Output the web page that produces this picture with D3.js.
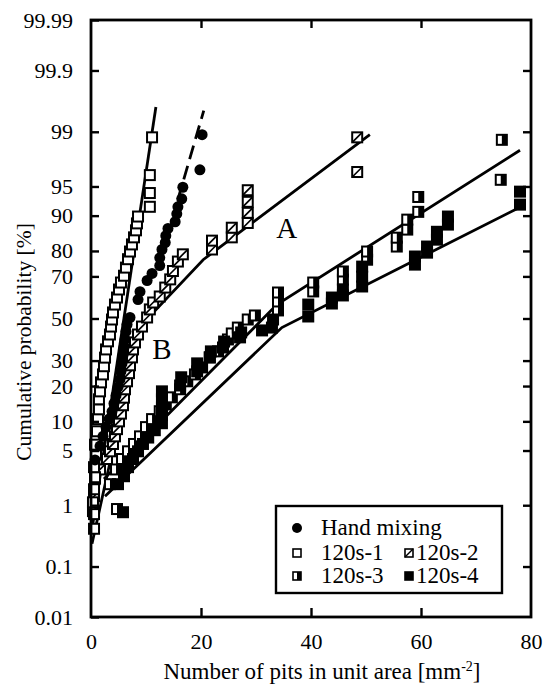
<!DOCTYPE html>
<html>
<head>
<meta charset="utf-8">
<script src="https://cdn.jsdelivr.net/npm/d3@7"></script>
<style>
  body { margin: 0; background: #fff; }
  text { font-family: "Liberation Serif", "Times New Roman", serif; fill: #000; }
</style>
</head>
<body>
<div class="canvas"></div>
<script>
// probability ticks (%) and x ticks
const probTicks = [0.01, 0.1, 1, 5, 10, 20, 30, 50, 70, 80, 90, 95, 99, 99.9, 99.99];
const xTicks = [0, 20, 40, 60, 80];

// Hand mixing (filled circles)
const handX = [0.73, 1.64, 2.18, 2.73, 3.27, 3.82, 4.18, 4.55, 4.91, 5.27, 5.45, 5.64, 5.82, 6.0, 6.18, 6.36, 6.55, 7.09, 8.55, 8.91, 10.2, 11.1, 12.5, 12.5, 12.9, 13.5, 13.6, 14.0, 15.3, 15.6, 15.8, 16.5, 16.7, 19.8, 20.2];
const handP = [3.9, 5.6, 7.1, 8.8, 10.5, 12.3, 14.5, 16.9, 19.6, 22.4, 25.5, 28.8, 32.3, 35.9, 39.7, 43.6, 47.0, 50.5, 59.3, 63.1, 68.2, 71.3, 74.5, 77.5, 80.5, 82.8, 84.9, 86.9, 88.6, 90.4, 91.8, 93.2, 94.9, 96.8, 98.9];

// 120s-1 (open squares)
const s1X = [0.55, 0.55, 0.36, 0.55, 0.73, 0.55, 0.91, 0.73, 1.09, 1.27, 1.45, 1.45, 1.64, 1.82, 2.18, 2.36, 2.55, 2.73, 3.09, 3.45, 3.64, 3.82, 4.0, 4.36, 4.73, 5.09, 5.45, 6.0, 6.36, 6.73, 7.09, 7.45, 7.82, 8.18, 8.36, 8.55, 10.7, 10.7, 10.7, 11.1];
const s1P = [0.44, 0.74, 1.1, 1.67, 2.4, 3.2, 4.5, 5.8, 8.0, 10.5, 12.9, 15.7, 18.2, 21.3, 24.3, 27.6, 31.3, 35.0, 38.8, 42.1, 46.0, 49.5, 53.0, 56.9, 60.3, 64.1, 67.3, 70.3, 73.7, 77.0, 79.8, 82.2, 84.4, 86.4, 88.2, 89.8, 91.8, 94.1, 96.3, 98.8];

// 120s-2 (slashed squares)
const s2X = [0.36, 0.55, 0.73, 1.64, 2.91, 3.45, 4.0, 4.36, 4.73, 5.09, 5.45, 5.82, 6.0, 6.18, 6.55, 6.91, 7.09, 7.45, 7.64, 8.0, 8.55, 9.27, 10.2, 10.7, 11.3, 12.5, 13.5, 14.4, 14.9, 15.8, 16.7, 22.0, 22.0, 25.6, 25.6, 28.5, 28.5, 28.5, 28.5, 48.4, 48.4];
const s2P = [0.82, 1.34, 2.3, 3.0, 4.0, 4.9, 5.9, 7.1, 8.4, 10.0, 11.8, 14.0, 16.2, 18.9, 21.7, 24.8, 28.0, 31.4, 35.0, 38.3, 42.1, 46.0, 50.5, 54.5, 57.9, 60.8, 65.0, 68.7, 72.3, 76.1, 78.8, 80.5, 83.4, 84.4, 87.1, 88.3, 90.6, 92.7, 94.5, 96.6, 98.8];

// 120s-3 (half filled squares)
const s3X = [4.73, 3.45, 4.55, 5.64, 6.73, 7.82, 8.91, 10.0, 11.1, 12.5, 13.6, 14.7, 16.2, 17.5, 18.9, 20.2, 21.6, 23.1, 24.9, 25.6, 26.7, 28.5, 29.8, 34.0, 34.0, 34.0, 40.4, 40.4, 45.8, 45.8, 50.2, 50.2, 55.6, 55.6, 57.5, 57.5, 59.5, 59.5, 74.5, 74.7];
const s3P = [0.88, 1.95, 3.0, 4.0, 4.9, 5.9, 7.1, 8.8, 10.5, 12.4, 14.2, 16.3, 18.9, 21.7, 24.3, 27.1, 31.4, 34.1, 39.7, 42.6, 45.5, 49.5, 51.5, 54.0, 58.4, 62.7, 63.2, 67.3, 68.6, 72.1, 76.8, 79.8, 81.5, 84.3, 86.6, 89.1, 90.8, 93.5, 95.8, 98.7];

// 120s-4 (filled squares)
const s4X = [5.82, 4.91, 6.0, 6.73, 7.64, 8.55, 9.45, 10.4, 11.6, 12.9, 12.9, 12.9, 12.9, 12.9, 16.2, 16.4, 19.3, 19.3, 21.6, 21.8, 24.0, 24.2, 27.1, 27.3, 31.1, 32.9, 33.1, 39.5, 39.5, 43.8, 43.8, 45.8, 45.8, 49.3, 49.3, 49.3, 58.9, 58.9, 61.1, 61.1, 62.9, 62.9, 64.9, 64.9, 78.0, 78.0];
const s4P = [0.79, 1.95, 2.47, 3.2, 4.0, 4.9, 5.9, 6.9, 8.2, 9.6, 11.4, 13.4, 15.7, 18.2, 20.2, 23.2, 25.5, 28.8, 31.4, 34.1, 35.9, 38.7, 40.7, 43.1, 44.1, 45.5, 49.5, 51.0, 56.9, 57.4, 60.3, 61.3, 64.1, 65.5, 69.9, 74.1, 74.9, 78.0, 79.4, 81.5, 83.7, 86.0, 87.9, 89.8, 92.2, 94.3];

// fitted lines [x, %]
const fit1 = [[0.2, 0.44], [11.8, 99.58]];
const fitHand = [[15.8, 93.1], [20.5, 99.52]];
const fitA = [[0.18, 0.25], [8.91, 46.0], [20.4, 76.8], [50.7, 98.9]];
const fit3 = [[2.36, 2.27], [33.8, 56.9], [78.0, 98.2]];
const fit4 = [[2.55, 1.34], [34.7, 45.5], [78.9, 92.2]];

// inverse normal cdf (Acklam)
const probit = p => {
  const a = [-3.969683028665376e+01, 2.209460984245205e+02, -2.759285104469687e+02, 1.383577518672690e+02, -3.066479806614716e+01, 2.506628277459239e+00];
  const b = [-5.447609879822406e+01, 1.615858368580409e+02, -1.556989798598866e+02, 6.680131188771972e+01, -1.328068155288572e+01];
  const c = [-7.784894002430293e-03, -3.223964580411365e-01, -2.400758277161838e+00, -2.549671348291478e+00, 4.374664141464968e+00, 2.938163982698783e+00];
  const d = [7.784695709041462e-03, 3.224671290700398e-01, 2.445134137142996e+00, 3.754408661907416e+00];
  const plow = 0.02425;
  let q, r;
  if (p < plow) {
    q = Math.sqrt(-2 * Math.log(p));
    return (((((c[0]*q+c[1])*q+c[2])*q+c[3])*q+c[4])*q+c[5]) / ((((d[0]*q+d[1])*q+d[2])*q+d[3])*q+1);
  } else if (p <= 1 - plow) {
    q = p - 0.5; r = q*q;
    return (((((a[0]*r+a[1])*r+a[2])*r+a[3])*r+a[4])*r+a[5])*q / (((((b[0]*r+b[1])*r+b[2])*r+b[3])*r+b[4])*r+1);
  }
  q = Math.sqrt(-2 * Math.log(1 - p));
  return -(((((c[0]*q+c[1])*q+c[2])*q+c[3])*q+c[4])*q+c[5]) / ((((d[0]*q+d[1])*q+d[2])*q+d[3])*q+1);
};

const dims = {width: 544, height: 689};
const plot = {left: 91, right: 531, top: 20, bottom: 617};
const serif = "Liberation Serif";

const svg = d3.select(".canvas").append("svg")
  .attr("width", dims.width).attr("height", dims.height);

const x = d3.scaleLinear().domain([0, 80]).range([plot.left, plot.right]);
const z = d3.scaleLinear().domain([probit(0.0001), probit(0.9999)]).range([plot.bottom, plot.top]);
const y = p => z(probit(p / 100));

const zip = (xs, ps) => xs.map((v, i) => [v, ps[i]]);

//fitted lines
const line = d3.line().x(d => x(d[0])).y(d => y(d[1]));
const lines = svg.append("g").attr("fill", "none").attr("stroke", "#000");
[fit1, fitA, fit3, fit4].forEach(f => {
  lines.append("path").attr("d", line(f)).attr("stroke-width", 2.8);
});
lines.append("path").attr("d", line(fitHand)).attr("stroke-width", 2.8)
  .attr("stroke-dasharray", "14,7");

// markers
const sq = 10;
const drawSquares = (data, kind, size) => {
  const g = svg.append("g");
  const s = size;
  data.forEach(([vx, vp]) => {
    const m = g.append("g").attr("transform", `translate(${x(vx)},${y(vp)})`);
    m.append("rect").attr("x", -s/2).attr("y", -s/2).attr("width", s).attr("height", s)
      .attr("fill", kind === "filled" ? "#000" : "#fff")
      .attr("stroke", "#000").attr("stroke-width", 2);
    if (kind === "slash") {
      m.append("line").attr("x1", -s/2).attr("y1", s/2).attr("x2", s/2).attr("y2", -s/2)
        .attr("stroke", "#000").attr("stroke-width", 1.7);
    }
    if (kind === "half") {
      m.append("rect").attr("x", 0).attr("y", -s/2).attr("width", s/2).attr("height", s)
        .attr("fill", "#000");
    }
  });
  return g;
};

drawSquares(zip(s2X, s2P), "slash", sq);
drawSquares(zip(s1X, s1P), "open", sq);
drawSquares(zip(s3X, s3P), "half", sq);
drawSquares(zip(s4X, s4P), "filled", sq);

svg.append("g").selectAll("circle")
  .data(zip(handX, handP))
  .enter().append("circle")
  .attr("cx", d => x(d[0])).attr("cy", d => y(d[1]))
  .attr("r", 5.5).attr("fill", "#000");

// frame
svg.append("rect")
  .attr("x", plot.left).attr("y", plot.top)
  .attr("width", plot.right - plot.left).attr("height", plot.bottom - plot.top)
  .attr("fill", "none").attr("stroke", "#000").attr("stroke-width", 2.8);

// y ticks and labels
const yAxisL = d3.axisLeft(z).tickValues(probTicks.map(p => probit(p / 100)))
  .tickSize(-8).tickPadding(18).tickFormat((d, i) => probTicks[i]);
const gy = svg.append("g").attr("transform", `translate(${plot.left},0)`).call(yAxisL);
gy.attr("font-family", serif);
gy.select(".domain").remove();
gy.selectAll("line").attr("stroke-width", 2.4);
gy.selectAll("text").attr("font-size", 22);

const yAxisR = d3.axisRight(z).tickValues(probTicks.slice(1, -1).map(p => probit(p / 100)))
  .tickSize(-8).tickFormat("");
const gyr = svg.append("g").attr("transform", `translate(${plot.right},0)`).call(yAxisR);
gyr.select(".domain").remove();
gyr.selectAll("line").attr("stroke-width", 2.4);

// x ticks and labels
const xAxis = d3.axisBottom(x).tickValues(xTicks).tickSize(0).tickPadding(16);
const gx = svg.append("g").attr("transform", `translate(0,${plot.bottom})`).call(xAxis);
gx.attr("font-family", serif);
gx.select(".domain").remove();
gx.selectAll("text").attr("font-size", 22);

const xIn = d3.axisTop(x).tickValues(xTicks.slice(1, -1)).tickSize(9).tickFormat("");
const gxi = svg.append("g").attr("transform", `translate(0,${plot.bottom})`).call(xIn);
gxi.select(".domain").remove();
gxi.selectAll("line").attr("stroke-width", 2.4);

const xTop = d3.axisBottom(x).tickValues(xTicks.slice(1, -1)).tickSize(8).tickFormat("");
const gxt = svg.append("g").attr("transform", `translate(0,${plot.top})`).call(xTop);
gxt.select(".domain").remove();
gxt.selectAll("line").attr("stroke-width", 2.4);

// axis titles
svg.append("text")
  .attr("transform", `translate(31,${342}) rotate(-90)`)
  .attr("text-anchor", "middle").attr("font-size", 21.5)
  .text("Cumulative probability [%]");

const xt = svg.append("text")
  .attr("x", 322).attr("y", 679)
  .attr("text-anchor", "middle").attr("font-size", 23);
xt.append("tspan").text("Number of pits in unit area [mm");
xt.append("tspan").attr("font-size", 14).attr("dy", -8).text("-2");
xt.append("tspan").attr("dy", 8).text("]");

// curve labels
svg.append("text").attr("x", x(35.6)).attr("y", y(84.3)).attr("font-size", 29)
  .attr("text-anchor", "middle").text("A");
svg.append("text").attr("x", x(12.9)).attr("y", y(30.5)).attr("font-size", 29)
  .attr("text-anchor", "middle").text("B");

// legend
const legend = svg.append("g").attr("transform", "translate(276,506)");
legend.append("rect").attr("width", 226).attr("height", 87)
  .attr("fill", "#fff").attr("stroke", "#000").attr("stroke-width", 2.4);
const ls = 8;
const legMark = (g, kind) => {
  if (kind === "circle") {
    g.append("circle").attr("r", 5).attr("fill", "#000");
    return;
  }
  g.append("rect").attr("x", -ls/2).attr("y", -ls/2).attr("width", ls).attr("height", ls)
    .attr("fill", kind === "filled" ? "#000" : "#fff").attr("stroke", "#000").attr("stroke-width", 1.6);
  if (kind === "slash") g.append("line").attr("x1", -ls/2).attr("y1", ls/2).attr("x2", ls/2).attr("y2", -ls/2)
    .attr("stroke", "#000").attr("stroke-width", 1.4);
  if (kind === "half") g.append("rect").attr("x", 0).attr("y", -ls/2).attr("width", ls/2).attr("height", ls).attr("fill", "#000");
};
const legItems = [
  {label: "Hand mixing", kind: "circle", mx: 21, tx: 45, ty: 29},
  {label: "120s-1", kind: "open", mx: 21, tx: 45, ty: 54},
  {label: "120s-2", kind: "slash", mx: 133, tx: 140, ty: 54},
  {label: "120s-3", kind: "half", mx: 21, tx: 45, ty: 77},
  {label: "120s-4", kind: "filled", mx: 133, tx: 140, ty: 77}
];
legItems.forEach(it => {
  legMark(legend.append("g").attr("transform", `translate(${it.mx},${it.ty - 7})`), it.kind);
  legend.append("text").attr("x", it.tx).attr("y", it.ty).attr("font-size", 23).text(it.label);
});
</script>
</body>
</html>
